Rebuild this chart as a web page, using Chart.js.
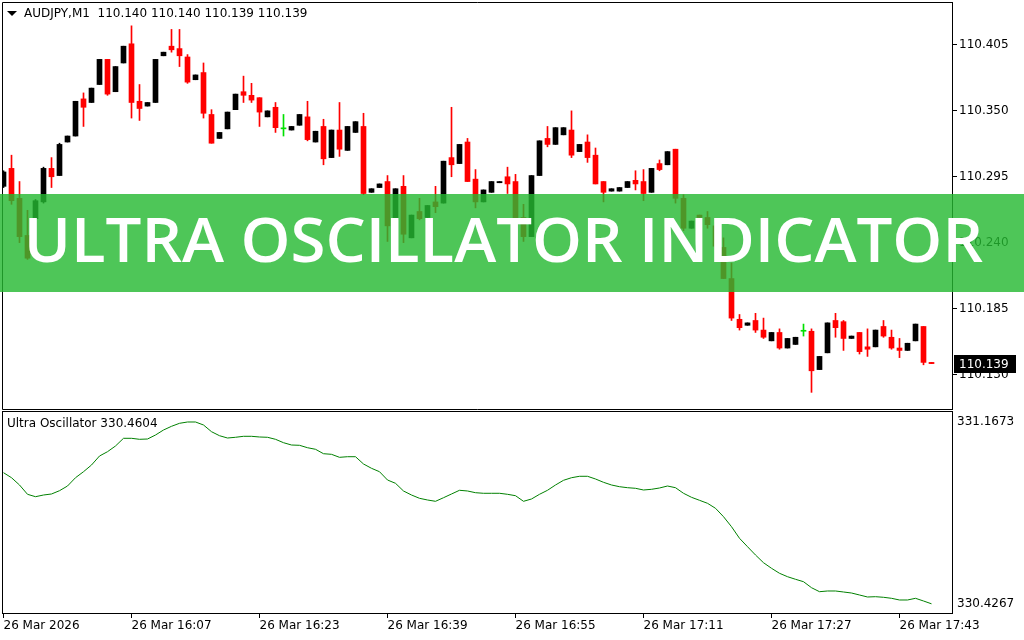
<!DOCTYPE html>
<html>
<head>
<meta charset="utf-8">
<script src="https://cdn.jsdelivr.net/npm/chart.js@4.4.1/dist/chart.umd.min.js"></script>
<style>
  html, body { margin: 0; padding: 0; background: #fff; }
  #wrap { position: relative; width: 1024px; height: 640px; overflow: hidden; }
  #mainBox { position: absolute; left: 0; top: 0; width: 1024px; height: 410px; }
  #oscBox { position: absolute; left: 0; top: 410px; width: 1024px; height: 230px; }
</style>
</head>
<body>
<div id="wrap">
  <div id="mainBox"><canvas id="priceChart"></canvas></div>
  <div id="oscBox"><canvas id="oscChart"></canvas></div>
</div>
<script>
// --- Data (AUDJPY M1, one bar per minute from 15:51) ---
const symbol = 'AUDJPY,M1';
const bannerText = 'ULTRA OSCILLATOR INDICATOR';
const oscName = 'Ultra Oscillator';

const opens = [
  110.287, 110.302, 110.277, 110.246, 110.260, 110.274, 110.302, 110.296, 110.324, 110.329,
  110.360, 110.357, 110.372, 110.393, 110.366, 110.390, 110.406, 110.358, 110.354, 110.357,
  110.396, 110.404, 110.402, 110.395, 110.376, 110.382, 110.347, 110.327, 110.335, 110.351,
  110.366, 110.363, 110.361, 110.345, 110.353, 110.335, 110.334, 110.338, 110.345, 110.324,
  110.337, 110.311, 110.334, 110.317, 110.332, 110.337, 110.282, 110.286, 110.291, 110.259,
  110.287, 110.244, 110.266, 110.261, 110.274, 110.273, 110.311, 110.306, 110.324, 110.293,
  110.274, 110.282, 110.290, 110.295, 110.291, 110.261, 110.245, 110.296, 110.327, 110.322,
  110.330, 110.334, 110.316, 110.324, 110.313, 110.291, 110.283, 110.283, 110.286, 110.292,
  110.291, 110.282, 110.306, 110.305, 110.318, 110.277, 110.252, 110.263, 110.261, 110.254,
  110.236, 110.210, 110.176, 110.171, 110.175, 110.167, 110.158, 110.165, 110.152, 110.155,
  110.166, 110.166, 110.134, 110.148, 110.175, 110.174, 110.160, 110.165, 110.153, 110.153,
  110.170, 110.161, 110.152, 110.150, 110.158, 110.170, 110.140
];
const highs = [
  110.300, 110.313, 110.291, 110.267, 110.276, 110.303, 110.311, 110.323, 110.329, 110.358,
  110.365, 110.369, 110.393, 110.393, 110.387, 110.404, 110.421, 110.372, 110.357, 110.393,
  110.399, 110.418, 110.418, 110.397, 110.380, 110.390, 110.351, 110.332, 110.349, 110.364,
  110.379, 110.373, 110.361, 110.350, 110.357, 110.347, 110.337, 110.347, 110.358, 110.333,
  110.343, 110.334, 110.357, 110.337, 110.341, 110.348, 110.285, 110.289, 110.296, 110.285,
  110.296, 110.263, 110.277, 110.271, 110.287, 110.308, 110.353, 110.322, 110.327, 110.301,
  110.284, 110.291, 110.291, 110.303, 110.297, 110.272, 110.296, 110.325, 110.337, 110.336,
  110.336, 110.350, 110.322, 110.330, 110.319, 110.291, 110.285, 110.286, 110.291, 110.300,
  110.301, 110.302, 110.309, 110.316, 110.318, 110.280, 110.258, 110.263, 110.266, 110.257,
  110.244, 110.223, 110.180, 110.173, 110.181, 110.177, 110.165, 110.168, 110.160, 110.161,
  110.172, 110.168, 110.145, 110.173, 110.181, 110.175, 110.162, 110.165, 110.168, 110.167,
  110.175, 110.167, 110.160, 110.156, 110.172, 110.170, 110.140
];
const lows = [
  110.286, 110.272, 110.240, 110.226, 110.259, 110.273, 110.286, 110.296, 110.324, 110.329,
  110.337, 110.357, 110.372, 110.363, 110.366, 110.390, 110.344, 110.342, 110.354, 110.357,
  110.396, 110.399, 110.387, 110.373, 110.376, 110.344, 110.323, 110.327, 110.335, 110.351,
  110.357, 110.357, 110.337, 110.345, 110.332, 110.329, 110.334, 110.338, 110.325, 110.324,
  110.305, 110.311, 110.312, 110.317, 110.332, 110.280, 110.282, 110.286, 110.241, 110.259,
  110.240, 110.244, 110.259, 110.261, 110.265, 110.273, 110.295, 110.306, 110.291, 110.269,
  110.274, 110.282, 110.290, 110.281, 110.259, 110.241, 110.245, 110.296, 110.320, 110.322,
  110.330, 110.311, 110.316, 110.307, 110.289, 110.274, 110.283, 110.283, 110.286, 110.284,
  110.275, 110.282, 110.300, 110.305, 110.273, 110.250, 110.252, 110.261, 110.252, 110.234,
  110.210, 110.175, 110.167, 110.171, 110.165, 110.160, 110.158, 110.151, 110.152, 110.155,
  110.162, 110.115, 110.134, 110.148, 110.161, 110.150, 110.160, 110.147, 110.145, 110.153,
  110.161, 110.151, 110.144, 110.150, 110.158, 110.138, 110.139
];
const closes = [
  110.299, 110.275, 110.245, 110.227, 110.275, 110.302, 110.295, 110.322, 110.329, 110.358,
  110.353, 110.369, 110.393, 110.364, 110.387, 110.404, 110.357, 110.352, 110.357, 110.393,
  110.399, 110.401, 110.396, 110.374, 110.380, 110.348, 110.323, 110.332, 110.349, 110.364,
  110.363, 110.359, 110.349, 110.350, 110.336, 110.335, 110.337, 110.347, 110.326, 110.333,
  110.310, 110.334, 110.318, 110.337, 110.341, 110.281, 110.285, 110.289, 110.254, 110.285,
  110.247, 110.263, 110.260, 110.271, 110.270, 110.308, 110.305, 110.322, 110.291, 110.274,
  110.284, 110.291, 110.291, 110.289, 110.259, 110.245, 110.296, 110.325, 110.322, 110.336,
  110.336, 110.313, 110.322, 110.311, 110.289, 110.282, 110.285, 110.286, 110.291, 110.289,
  110.281, 110.302, 110.301, 110.316, 110.277, 110.252, 110.258, 110.261, 110.255, 110.237,
  110.210, 110.177, 110.169, 110.173, 110.167, 110.161, 110.165, 110.152, 110.160, 110.161,
  110.166, 110.133, 110.145, 110.173, 110.169, 110.160, 110.162, 110.149, 110.151, 110.167,
  110.162, 110.152, 110.150, 110.156, 110.172, 110.140, 110.139
];
const osc = [
  330.9411, 330.9227, 330.8960, 330.8619, 330.8531, 330.8593, 330.8630, 330.8751, 330.8923, 330.9227,
  330.9447, 330.9693, 331.0023, 331.0181, 331.0390, 331.0672, 331.0672, 331.0635, 331.0646, 331.0793,
  331.0976, 331.1112, 331.1222, 331.1270, 331.1270, 331.1160, 331.0914, 331.0767, 331.0683, 331.0709,
  331.0745, 331.0745, 331.0720, 331.0709, 331.0635, 331.0511, 331.0426, 331.0415, 331.0327, 331.0269,
  331.0107, 331.0085, 330.9975, 330.9997, 330.9997, 330.9730, 330.9572, 330.9447, 330.9143, 330.9022,
  330.8740, 330.8593, 330.8472, 330.8410, 330.8362, 330.8494, 330.8630, 330.8766, 330.8740, 330.8678,
  330.8656, 330.8656, 330.8656, 330.8619, 330.8568, 330.8362, 330.8447, 330.8619, 330.8766, 330.8960,
  330.9132, 330.9227, 330.9279, 330.9279, 330.9180, 330.9059, 330.8960, 330.8898, 330.8861, 330.8839,
  330.8777, 330.8802, 330.8850, 330.8923, 330.8861, 330.8656, 330.8509, 330.8399, 330.8289, 330.8106,
  330.7798, 330.7431, 330.7006, 330.6698, 330.6393, 330.6111, 330.5906, 330.5723, 330.5598, 330.5503,
  330.5415, 330.5195, 330.5048, 330.5074, 330.5074, 330.5037, 330.5000, 330.4927, 330.4854, 330.4865,
  330.4843, 330.4806, 330.4744, 330.4744, 330.4806, 330.4707, 330.4604
];

const priceTicks = [110.130, 110.185, 110.240, 110.295, 110.350, 110.405];
const priceMin = 110.1011, priceMax = 110.4409;
const oscMin = 330.4267, oscMax = 331.1673;
const timeTickIdx = [0, 16, 32, 48, 64, 80, 96, 112];
const timeLabels = ['26 Mar 2026', '26 Mar 16:07', '26 Mar 16:23', '26 Mar 16:39',
                    '26 Mar 16:55', '26 Mar 17:11', '26 Mar 17:27', '26 Mar 17:43'];
const xMin = -0.1875, xMax = 118.5625;

Chart.defaults.font.family = '"DejaVu Sans"';
Chart.defaults.font.size = 12;
Chart.defaults.color = '#000';
Chart.defaults.animation = false;

// black = up bar, red = down bar, green = doji
const candleColor = opens.map((o, i) => o === closes[i] ? '#00e000' : (closes[i] > o ? '#000000' : '#ff0000'));
const last = closes.length - 1;

// frame, header, current price box and the banner on top
const priceDecor = {
    id: 'priceDecor',
    afterDraw(chart) {
        const { ctx, chartArea: a, scales } = chart;
        ctx.save();
        ctx.strokeStyle = '#000';
        ctx.lineWidth = 1;
        ctx.beginPath();
        ctx.moveTo(a.right, a.top + 0.5);
        ctx.lineTo(a.left + 0.5, a.top + 0.5);
        ctx.lineTo(a.left + 0.5, a.bottom + 0.5);
        ctx.lineTo(a.right, a.bottom + 0.5);
        ctx.stroke();

        ctx.font = '12px "DejaVu Sans"';
        ctx.textBaseline = 'middle';
        ctx.fillStyle = '#000';
        ctx.beginPath();
        ctx.moveTo(7, 11); ctx.lineTo(17, 11); ctx.lineTo(12, 16); ctx.closePath();
        ctx.fill();
        ctx.fillText(symbol + '  ' + [opens[last], highs[last], lows[last], closes[last]].map(v => v.toFixed(3)).join(' '), 24, 14);

        const yp = Math.round(scales.y.getPixelForValue(closes[last]));
        ctx.fillRect(954, yp - 9, 62, 18);
        ctx.fillStyle = '#fff';
        ctx.fillText(closes[last].toFixed(3), 959, yp + 0.5);

        ctx.fillStyle = 'rgba(37,185,49,0.81)';
        ctx.fillRect(0, 194, chart.width, 98);
        ctx.font = '600 61px "Open Sans"';
        ctx.textBaseline = 'alphabetic';
        const m = ctx.measureText(bannerText);
        const inkW = m.actualBoundingBoxLeft + m.actualBoundingBoxRight;
        ctx.translate(29, 262);
        ctx.scale(954 / inkW, 1);
        ctx.fillStyle = '#fff';
        ctx.fillText(bannerText, m.actualBoundingBoxLeft, 0);
        ctx.restore();
    }
};

new Chart(document.getElementById('priceChart'), {
    type: 'bar',
    data: {
        datasets: [
            {
                data: opens.map((o, i) => ({ x: i, y: [lows[i], highs[i]] })),
                backgroundColor: candleColor,
                barThickness: 1,
                grouped: false,
                order: 2
            },
            {
                data: opens.map((o, i) => ({ x: i, y: [o, closes[i]] })),
                backgroundColor: candleColor,
                barThickness: 5,
                minBarLength: 1,
                grouped: false,
                order: 1
            }
        ]
    },
    options: {
        responsive: true,
        maintainAspectRatio: false,
        layout: { padding: { top: 2, left: 2, right: 0, bottom: 1 } },
        plugins: { legend: { display: false }, tooltip: { enabled: false } },
        scales: {
            x: { type: 'linear', min: xMin, max: xMax, display: false, offset: false, grid: { offset: false } },
            y: {
                position: 'right',
                min: priceMin,
                max: priceMax,
                afterFit: s => { s.width = 72; s.paddingTop = 0; s.paddingBottom = 0; },
                afterBuildTicks: s => { s.ticks = priceTicks.map(v => ({ value: v })); },
                ticks: { padding: 2, color: '#000', callback: v => v.toFixed(3) },
                grid: { drawOnChartArea: false, drawTicks: true, tickLength: 5, color: '#000' },
                border: { display: true, color: '#000' }
            }
        }
    },
    plugins: [priceDecor]
});

const oscDecor = {
    id: 'oscDecor',
    afterDraw(chart) {
        const { ctx, chartArea: a } = chart;
        ctx.save();
        ctx.strokeStyle = '#000';
        ctx.lineWidth = 1;
        ctx.strokeRect(a.left + 0.5, a.top + 0.5, a.right - a.left, a.bottom - a.top);
        ctx.font = '12px "DejaVu Sans"';
        ctx.textBaseline = 'middle';
        ctx.fillStyle = '#000';
        ctx.fillText(oscName + ' ' + osc[osc.length - 1].toFixed(4), 7, a.top + 13);
        ctx.fillText(oscMax.toFixed(4), a.right + 5, a.top + 11);
        ctx.fillText(oscMin.toFixed(4), a.right + 5, a.bottom - 9);
        ctx.restore();
    }
};

new Chart(document.getElementById('oscChart'), {
    type: 'line',
    data: {
        datasets: [{
            data: osc.map((v, i) => ({ x: i, y: v })),
            borderColor: '#008000',
            borderWidth: 1,
            pointRadius: 0,
            tension: 0
        }]
    },
    options: {
        responsive: true,
        maintainAspectRatio: false,
        layout: { padding: { top: 1, left: 2, right: 72, bottom: 0 } },
        plugins: { legend: { display: false }, tooltip: { enabled: false } },
        scales: {
            x: {
                type: 'linear',
                min: xMin,
                max: xMax,
                offset: false,
                afterFit: s => { s.height = 27; s.paddingLeft = 0; s.paddingRight = 0; },
                afterBuildTicks: s => { s.ticks = timeTickIdx.map(v => ({ value: v })); },
                ticks: {
                    autoSkip: false, maxRotation: 0, minRotation: 0, align: 'start', padding: 1, color: '#000',
                    callback: v => timeLabels[timeTickIdx.indexOf(v)]
                },
                grid: { drawOnChartArea: false, drawTicks: true, tickLength: 5, color: '#000' },
                border: { display: true, color: '#000' }
            },
            y: { display: false, min: oscMin, max: oscMax }
        }
    },
    plugins: [oscDecor]
});
</script>
</body>
</html>
